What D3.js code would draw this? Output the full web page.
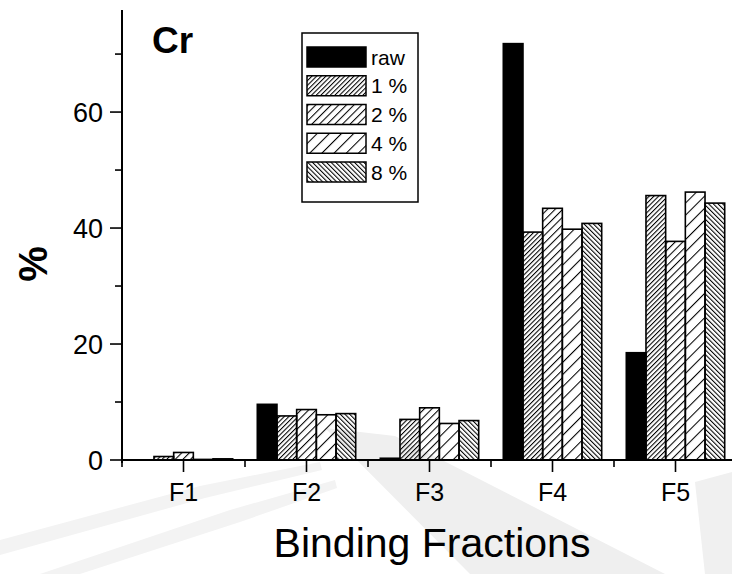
<!DOCTYPE html>
<html>
<head>
<meta charset="utf-8">
<script src="https://cdn.jsdelivr.net/npm/d3@7"></script>
<style>
  html, body { margin: 0; padding: 0; background: #fff; }
  svg { display: block; }
  text { font-family: "Liberation Sans", Arial, sans-serif; fill: #000; }
</style>
</head>
<body>
<svg id="chart" width="732" height="574"></svg>
<script>
// ---- data ----
const categories = ["F1", "F2", "F3", "F4", "F5"];
const seriesNames = ["raw", "1 %", "2 %", "4 %", "8 %"];
const rawValues = [0, 9.6, 0.3, 71.8, 18.5];
const pct1Values = [0.6, 7.6, 7.0, 39.3, 45.6];
const pct2Values = [1.3, 8.7, 9.0, 43.4, 37.7];
const pct4Values = [0.1, 7.8, 6.3, 39.8, 46.2];
const pct8Values = [0.2, 8.0, 6.8, 40.8, 44.3];
const yMajorTicks = [0, 20, 40, 60];
const yMinorTicks = [10, 30, 50, 70];
const allSeries = [rawValues, pct1Values, pct2Values, pct4Values, pct8Values];

const svg = d3.select("#chart");
svg.append("rect").attr("width", 732).attr("height", 574).attr("fill", "#fff");

// faint background watermark
const wm = svg.append("g");
wm.append("path").attr("d", "M325,428 L395,436 L665,574 L470,574 Z").attr("fill", "#efefef");
wm.append("path").attr("d", "M0,540 L200,486 L320,462 L322,470 L205,498 L0,555 Z").attr("fill", "#f3f3f3");
wm.append("path").attr("d", "M40,574 L230,510 L335,480 L337,488 L240,522 L80,574 Z").attr("fill", "#f3f3f3");
wm.append("path").attr("d", "M695,482 L732,472 L732,574 L705,574 Z").attr("fill", "#f0f0f0");

// patterns
const defs = svg.append("defs");
const patSpecs = [
  { id: "p1", s: 3.3, rot: 45 },
  { id: "p2", s: 5.4, rot: 45 },
  { id: "p4", s: 8.6, rot: 45 },
  { id: "p8", s: 3.3, rot: -45 }
];
patSpecs.forEach(p => {
  const pat = defs.append("pattern")
    .attr("id", p.id).attr("patternUnits", "userSpaceOnUse")
    .attr("width", p.s).attr("height", p.s)
    .attr("patternTransform", `rotate(${p.rot})`);
  pat.append("line").attr("x1", 0.5).attr("y1", -1).attr("x2", 0.5).attr("y2", p.s + 1)
    .attr("stroke", "#000").attr("stroke-width", 1.1);
});
const fills = ["#000", "url(#p1)", "url(#p2)", "url(#p4)", "url(#p8)"];

// scales
const x0 = 122, x1 = 737, yBase = 460, yTop = 10;
const x = d3.scaleBand().domain(categories).range([x0, x1]).paddingInner(0.2).paddingOuter(0.1);
const xs = d3.scaleBand().domain(seriesNames).range([0, x.bandwidth()]);
const y = d3.scaleLinear().domain([0, 77.6]).range([yBase, yTop]);

// bars
const barData = [];
allSeries.forEach((vals, si) => {
  vals.forEach((v, ci) => barData.push({ cat: categories[ci], ser: seriesNames[si], si, v }));
});
svg.append("g").selectAll("rect").data(barData).join("rect")
  .attr("x", d => x(d.cat) + xs(d.ser))
  .attr("y", d => y(d.v))
  .attr("width", xs.bandwidth())
  .attr("height", d => y(0) - y(d.v))
  .attr("fill", d => fills[d.si])
  .attr("stroke", "#000")
  .attr("stroke-width", 1.6);

// y axis
const yAxis = svg.append("g");
yAxis.append("line").attr("x1", x0).attr("x2", x0).attr("y1", yTop).attr("y2", yBase + 3)
  .attr("stroke", "#000").attr("stroke-width", 2);
yAxis.selectAll(".maj").data(yMajorTicks).join("line")
  .attr("x1", x0 - 12).attr("x2", x0).attr("y1", d => y(d)).attr("y2", d => y(d))
  .attr("stroke", "#000").attr("stroke-width", 1.6);
yAxis.selectAll(".min").data(yMinorTicks).join("line")
  .attr("x1", x0 - 7).attr("x2", x0).attr("y1", d => y(d)).attr("y2", d => y(d))
  .attr("stroke", "#000").attr("stroke-width", 1.6);
yAxis.selectAll("text").data(yMajorTicks).join("text")
  .attr("x", x0 - 19).attr("y", d => y(d) + 9.5)
  .attr("text-anchor", "end").attr("font-size", 27).text(d => d);

// x axis
const xAxis = svg.append("g");
xAxis.append("line").attr("x1", x0).attr("x2", 732).attr("y1", yBase).attr("y2", yBase)
  .attr("stroke", "#000").attr("stroke-width", 2);
xAxis.selectAll(".maj").data(categories).join("line")
  .attr("x1", d => x(d) + x.bandwidth() / 2).attr("x2", d => x(d) + x.bandwidth() / 2)
  .attr("y1", yBase).attr("y2", yBase + 12)
  .attr("stroke", "#000").attr("stroke-width", 1.6);
const bounds = d3.range(categories.length + 1).map(i => x0 + i * x.step());
xAxis.selectAll(".min").data(bounds).join("line")
  .attr("x1", d => d).attr("x2", d => d).attr("y1", yBase).attr("y2", yBase + 7)
  .attr("stroke", "#000").attr("stroke-width", 1.6);
xAxis.selectAll("text").data(categories).join("text")
  .attr("x", d => x(d) + x.bandwidth() / 2).attr("y", 501)
  .attr("text-anchor", "middle").attr("font-size", 25).text(d => d);

// axis titles
svg.append("text").attr("x", 432).attr("y", 557).attr("text-anchor", "middle")
  .attr("font-size", 41).text("Binding Fractions");
svg.append("text").attr("transform", "translate(47,264) rotate(-90)")
  .attr("text-anchor", "middle").attr("font-size", 40).attr("font-weight", "bold").text("%");

// panel label
svg.append("text").attr("x", 152).attr("y", 53).attr("font-size", 37)
  .attr("font-weight", "bold").text("Cr");

// legend
const lg = svg.append("g");
lg.append("rect").attr("x", 302).attr("y", 33).attr("width", 116).attr("height", 169)
  .attr("fill", "#fff").attr("stroke", "#000").attr("stroke-width", 1.5);
const rowY = d3.scalePoint().domain(seriesNames).range([57, 172]);
seriesNames.forEach((s, i) => {
  lg.append("rect").attr("x", 307).attr("y", rowY(s) - 10).attr("width", 59).attr("height", 20)
    .attr("fill", fills[i]).attr("stroke", "#000").attr("stroke-width", 1.5);
  lg.append("text").attr("x", 371).attr("y", rowY(s) + 7.5).attr("font-size", 21).text(s);
});
</script>
</body>
</html>
